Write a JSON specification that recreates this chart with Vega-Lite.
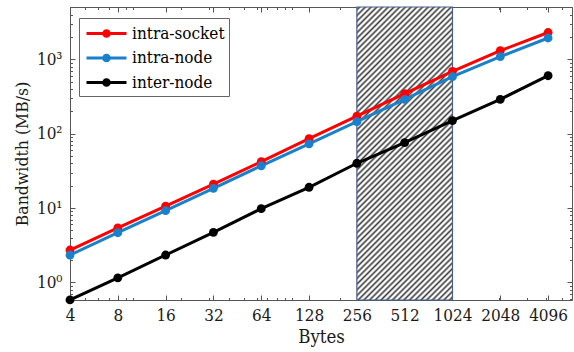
{
  "$schema": "https://vega.github.io/schema/vega-lite/v6.json",
  "width": 502,
  "height": 293,
  "autosize": "none",
  "padding": {"left": 70, "top": 7, "right": 2, "bottom": 52},
  "background": "#ffffff",
  "datasets": {
    "series": [
      {"bytes": 4, "bw": 2.72, "type": "intra-socket"},
      {"bytes": 8, "bw": 5.4, "type": "intra-socket"},
      {"bytes": 16, "bw": 10.6, "type": "intra-socket"},
      {"bytes": 32, "bw": 21, "type": "intra-socket"},
      {"bytes": 64, "bw": 42, "type": "intra-socket"},
      {"bytes": 128, "bw": 86, "type": "intra-socket"},
      {"bytes": 256, "bw": 172, "type": "intra-socket"},
      {"bytes": 512, "bw": 345, "type": "intra-socket"},
      {"bytes": 1024, "bw": 690, "type": "intra-socket"},
      {"bytes": 2048, "bw": 1310, "type": "intra-socket"},
      {"bytes": 4096, "bw": 2300, "type": "intra-socket"},
      {"bytes": 4, "bw": 2.33, "type": "intra-node"},
      {"bytes": 8, "bw": 4.65, "type": "intra-node"},
      {"bytes": 16, "bw": 9.2, "type": "intra-node"},
      {"bytes": 32, "bw": 18.4, "type": "intra-node"},
      {"bytes": 64, "bw": 37, "type": "intra-node"},
      {"bytes": 128, "bw": 73, "type": "intra-node"},
      {"bytes": 256, "bw": 145, "type": "intra-node"},
      {"bytes": 512, "bw": 290, "type": "intra-node"},
      {"bytes": 1024, "bw": 585, "type": "intra-node"},
      {"bytes": 2048, "bw": 1090, "type": "intra-node"},
      {"bytes": 4096, "bw": 1940, "type": "intra-node"},
      {"bytes": 4, "bw": 0.58, "type": "inter-node"},
      {"bytes": 8, "bw": 1.15, "type": "inter-node"},
      {"bytes": 16, "bw": 2.33, "type": "inter-node"},
      {"bytes": 32, "bw": 4.7, "type": "inter-node"},
      {"bytes": 64, "bw": 9.8, "type": "inter-node"},
      {"bytes": 128, "bw": 19, "type": "inter-node"},
      {"bytes": 256, "bw": 40, "type": "inter-node"},
      {"bytes": 512, "bw": 76, "type": "inter-node"},
      {"bytes": 1024, "bw": 150, "type": "inter-node"},
      {"bytes": 2048, "bw": 290, "type": "inter-node"},
      {"bytes": 4096, "bw": 603, "type": "inter-node"}
    ],
    "region": [
      {"start": 256, "end": 1024}
    ]
  },
  "layer": [
    {
      "data": {"name": "region"},
      "mark": {
        "type": "rect",
        "stroke": "#4a5e8e",
        "strokeWidth": 1.2,
        "fill": {
          "gradient": "linear",
          "x1": 0, "y1": 0, "x2": 0.3912, "y2": 1.1987,
          "stops": [
            {"offset": 0.0015, "color": "#fff"}, {"offset": 0.0074, "color": "#3c3c3c"}, {"offset": 0.0132, "color": "#fff"},
            {"offset": 0.0162, "color": "#fff"}, {"offset": 0.0221, "color": "#3c3c3c"}, {"offset": 0.0279, "color": "#fff"},
            {"offset": 0.0309, "color": "#fff"}, {"offset": 0.0368, "color": "#3c3c3c"}, {"offset": 0.0426, "color": "#fff"},
            {"offset": 0.0456, "color": "#fff"}, {"offset": 0.0515, "color": "#3c3c3c"}, {"offset": 0.0574, "color": "#fff"},
            {"offset": 0.0603, "color": "#fff"}, {"offset": 0.0662, "color": "#3c3c3c"}, {"offset": 0.0721, "color": "#fff"},
            {"offset": 0.0750, "color": "#fff"}, {"offset": 0.0809, "color": "#3c3c3c"}, {"offset": 0.0868, "color": "#fff"},
            {"offset": 0.0897, "color": "#fff"}, {"offset": 0.0956, "color": "#3c3c3c"}, {"offset": 0.1015, "color": "#fff"},
            {"offset": 0.1044, "color": "#fff"}, {"offset": 0.1103, "color": "#3c3c3c"}, {"offset": 0.1162, "color": "#fff"},
            {"offset": 0.1191, "color": "#fff"}, {"offset": 0.1250, "color": "#3c3c3c"}, {"offset": 0.1309, "color": "#fff"},
            {"offset": 0.1338, "color": "#fff"}, {"offset": 0.1397, "color": "#3c3c3c"}, {"offset": 0.1456, "color": "#fff"},
            {"offset": 0.1485, "color": "#fff"}, {"offset": 0.1544, "color": "#3c3c3c"}, {"offset": 0.1603, "color": "#fff"},
            {"offset": 0.1632, "color": "#fff"}, {"offset": 0.1691, "color": "#3c3c3c"}, {"offset": 0.1750, "color": "#fff"},
            {"offset": 0.1779, "color": "#fff"}, {"offset": 0.1838, "color": "#3c3c3c"}, {"offset": 0.1897, "color": "#fff"},
            {"offset": 0.1926, "color": "#fff"}, {"offset": 0.1985, "color": "#3c3c3c"}, {"offset": 0.2044, "color": "#fff"},
            {"offset": 0.2074, "color": "#fff"}, {"offset": 0.2132, "color": "#3c3c3c"}, {"offset": 0.2191, "color": "#fff"},
            {"offset": 0.2221, "color": "#fff"}, {"offset": 0.2279, "color": "#3c3c3c"}, {"offset": 0.2338, "color": "#fff"},
            {"offset": 0.2368, "color": "#fff"}, {"offset": 0.2426, "color": "#3c3c3c"}, {"offset": 0.2485, "color": "#fff"},
            {"offset": 0.2515, "color": "#fff"}, {"offset": 0.2574, "color": "#3c3c3c"}, {"offset": 0.2632, "color": "#fff"},
            {"offset": 0.2662, "color": "#fff"}, {"offset": 0.2721, "color": "#3c3c3c"}, {"offset": 0.2779, "color": "#fff"},
            {"offset": 0.2809, "color": "#fff"}, {"offset": 0.2868, "color": "#3c3c3c"}, {"offset": 0.2926, "color": "#fff"},
            {"offset": 0.2956, "color": "#fff"}, {"offset": 0.3015, "color": "#3c3c3c"}, {"offset": 0.3074, "color": "#fff"},
            {"offset": 0.3103, "color": "#fff"}, {"offset": 0.3162, "color": "#3c3c3c"}, {"offset": 0.3221, "color": "#fff"},
            {"offset": 0.3250, "color": "#fff"}, {"offset": 0.3309, "color": "#3c3c3c"}, {"offset": 0.3368, "color": "#fff"},
            {"offset": 0.3397, "color": "#fff"}, {"offset": 0.3456, "color": "#3c3c3c"}, {"offset": 0.3515, "color": "#fff"},
            {"offset": 0.3544, "color": "#fff"}, {"offset": 0.3603, "color": "#3c3c3c"}, {"offset": 0.3662, "color": "#fff"},
            {"offset": 0.3691, "color": "#fff"}, {"offset": 0.3750, "color": "#3c3c3c"}, {"offset": 0.3809, "color": "#fff"},
            {"offset": 0.3838, "color": "#fff"}, {"offset": 0.3897, "color": "#3c3c3c"}, {"offset": 0.3956, "color": "#fff"},
            {"offset": 0.3985, "color": "#fff"}, {"offset": 0.4044, "color": "#3c3c3c"}, {"offset": 0.4103, "color": "#fff"},
            {"offset": 0.4132, "color": "#fff"}, {"offset": 0.4191, "color": "#3c3c3c"}, {"offset": 0.4250, "color": "#fff"},
            {"offset": 0.4279, "color": "#fff"}, {"offset": 0.4338, "color": "#3c3c3c"}, {"offset": 0.4397, "color": "#fff"},
            {"offset": 0.4426, "color": "#fff"}, {"offset": 0.4485, "color": "#3c3c3c"}, {"offset": 0.4544, "color": "#fff"},
            {"offset": 0.4574, "color": "#fff"}, {"offset": 0.4632, "color": "#3c3c3c"}, {"offset": 0.4691, "color": "#fff"},
            {"offset": 0.4721, "color": "#fff"}, {"offset": 0.4779, "color": "#3c3c3c"}, {"offset": 0.4838, "color": "#fff"},
            {"offset": 0.4868, "color": "#fff"}, {"offset": 0.4926, "color": "#3c3c3c"}, {"offset": 0.4985, "color": "#fff"},
            {"offset": 0.5015, "color": "#fff"}, {"offset": 0.5074, "color": "#3c3c3c"}, {"offset": 0.5132, "color": "#fff"},
            {"offset": 0.5162, "color": "#fff"}, {"offset": 0.5221, "color": "#3c3c3c"}, {"offset": 0.5279, "color": "#fff"},
            {"offset": 0.5309, "color": "#fff"}, {"offset": 0.5368, "color": "#3c3c3c"}, {"offset": 0.5426, "color": "#fff"},
            {"offset": 0.5456, "color": "#fff"}, {"offset": 0.5515, "color": "#3c3c3c"}, {"offset": 0.5574, "color": "#fff"},
            {"offset": 0.5603, "color": "#fff"}, {"offset": 0.5662, "color": "#3c3c3c"}, {"offset": 0.5721, "color": "#fff"},
            {"offset": 0.5750, "color": "#fff"}, {"offset": 0.5809, "color": "#3c3c3c"}, {"offset": 0.5868, "color": "#fff"},
            {"offset": 0.5897, "color": "#fff"}, {"offset": 0.5956, "color": "#3c3c3c"}, {"offset": 0.6015, "color": "#fff"},
            {"offset": 0.6044, "color": "#fff"}, {"offset": 0.6103, "color": "#3c3c3c"}, {"offset": 0.6162, "color": "#fff"},
            {"offset": 0.6191, "color": "#fff"}, {"offset": 0.6250, "color": "#3c3c3c"}, {"offset": 0.6309, "color": "#fff"},
            {"offset": 0.6338, "color": "#fff"}, {"offset": 0.6397, "color": "#3c3c3c"}, {"offset": 0.6456, "color": "#fff"},
            {"offset": 0.6485, "color": "#fff"}, {"offset": 0.6544, "color": "#3c3c3c"}, {"offset": 0.6603, "color": "#fff"},
            {"offset": 0.6632, "color": "#fff"}, {"offset": 0.6691, "color": "#3c3c3c"}, {"offset": 0.6750, "color": "#fff"},
            {"offset": 0.6779, "color": "#fff"}, {"offset": 0.6838, "color": "#3c3c3c"}, {"offset": 0.6897, "color": "#fff"},
            {"offset": 0.6926, "color": "#fff"}, {"offset": 0.6985, "color": "#3c3c3c"}, {"offset": 0.7044, "color": "#fff"},
            {"offset": 0.7074, "color": "#fff"}, {"offset": 0.7132, "color": "#3c3c3c"}, {"offset": 0.7191, "color": "#fff"},
            {"offset": 0.7221, "color": "#fff"}, {"offset": 0.7279, "color": "#3c3c3c"}, {"offset": 0.7338, "color": "#fff"},
            {"offset": 0.7368, "color": "#fff"}, {"offset": 0.7426, "color": "#3c3c3c"}, {"offset": 0.7485, "color": "#fff"},
            {"offset": 0.7515, "color": "#fff"}, {"offset": 0.7574, "color": "#3c3c3c"}, {"offset": 0.7632, "color": "#fff"},
            {"offset": 0.7662, "color": "#fff"}, {"offset": 0.7721, "color": "#3c3c3c"}, {"offset": 0.7779, "color": "#fff"},
            {"offset": 0.7809, "color": "#fff"}, {"offset": 0.7868, "color": "#3c3c3c"}, {"offset": 0.7926, "color": "#fff"},
            {"offset": 0.7956, "color": "#fff"}, {"offset": 0.8015, "color": "#3c3c3c"}, {"offset": 0.8074, "color": "#fff"},
            {"offset": 0.8103, "color": "#fff"}, {"offset": 0.8162, "color": "#3c3c3c"}, {"offset": 0.8221, "color": "#fff"},
            {"offset": 0.8250, "color": "#fff"}, {"offset": 0.8309, "color": "#3c3c3c"}, {"offset": 0.8368, "color": "#fff"},
            {"offset": 0.8397, "color": "#fff"}, {"offset": 0.8456, "color": "#3c3c3c"}, {"offset": 0.8515, "color": "#fff"},
            {"offset": 0.8544, "color": "#fff"}, {"offset": 0.8603, "color": "#3c3c3c"}, {"offset": 0.8662, "color": "#fff"},
            {"offset": 0.8691, "color": "#fff"}, {"offset": 0.8750, "color": "#3c3c3c"}, {"offset": 0.8809, "color": "#fff"},
            {"offset": 0.8838, "color": "#fff"}, {"offset": 0.8897, "color": "#3c3c3c"}, {"offset": 0.8956, "color": "#fff"},
            {"offset": 0.8985, "color": "#fff"}, {"offset": 0.9044, "color": "#3c3c3c"}, {"offset": 0.9103, "color": "#fff"},
            {"offset": 0.9132, "color": "#fff"}, {"offset": 0.9191, "color": "#3c3c3c"}, {"offset": 0.9250, "color": "#fff"},
            {"offset": 0.9279, "color": "#fff"}, {"offset": 0.9338, "color": "#3c3c3c"}, {"offset": 0.9397, "color": "#fff"},
            {"offset": 0.9426, "color": "#fff"}, {"offset": 0.9485, "color": "#3c3c3c"}, {"offset": 0.9544, "color": "#fff"},
            {"offset": 0.9574, "color": "#fff"}, {"offset": 0.9632, "color": "#3c3c3c"}, {"offset": 0.9691, "color": "#fff"},
            {"offset": 0.9721, "color": "#fff"}, {"offset": 0.9779, "color": "#3c3c3c"}, {"offset": 0.9838, "color": "#fff"},
            {"offset": 0.9868, "color": "#fff"}, {"offset": 0.9926, "color": "#3c3c3c"}, {"offset": 0.9985, "color": "#fff"}
          ]
        }
      },
      "encoding": {
        "x": {
          "field": "start", "type": "quantitative",
          "scale": {"type": "log", "base": 2, "domain": [4, 5793], "nice": false},
          "axis": {
            "orient": "bottom", "title": "Bytes",
            "values": [4, 8, 16, 32, 64, 128, 256, 512, 1024, 2048, 4096],
            "format": "d", "tickSize": -5, "labelPadding": 12, "titlePadding": 4,
            "labelFlush": false, "labelOverlap": false
          }
        },
        "x2": {"field": "end"}
      }
    },
    {
      "data": {"name": "series"},
      "mark": {"type": "line", "clip": false},
      "encoding": {
        "x": {
          "field": "bytes", "type": "quantitative",
          "scale": {"type": "log", "base": 2, "domain": [4, 5793], "nice": false},
          "axis": {
            "orient": "top", "title": null, "labels": false,
            "values": [4, 8, 16, 32, 64, 128, 256, 512, 1024, 2048, 4096],
            "tickSize": -5
          }
        },
        "y": {
          "field": "bw", "type": "quantitative",
          "scale": {"type": "log", "domain": [0.578, 5070], "nice": false},
          "axis": {
            "orient": "left", "title": "Bandwidth (MB/s)",
            "values": [1, 10, 100, 1000],
            "labelExpr": "datum.value == 1 ? '10⁰' : datum.value == 10 ? '10¹' : datum.value == 100 ? '10²' : '10³'",
            "tickSize": -5, "labelPadding": 13, "titlePadding": 5, "titleFontSize": 17.5,
            "labelFlush": false, "labelOverlap": false
          }
        },
        "color": {
          "field": "type", "type": "nominal",
          "scale": {"domain": ["intra-socket", "intra-node", "inter-node"], "range": ["#ff0000", "#1a80cc", "#000000"]},
          "legend": {
            "orient": "none", "legendX": 9, "legendY": 11, "title": null,
            "padding": 4, "strokeColor": "#666", "fillColor": "#ffffff",
            "symbolType": "M-2,0L2,0M-0.28,0A0.28,0.28,0,1,0,0.28,0A0.28,0.28,0,1,0,-0.28,0Z",
            "symbolSize": 400, "symbolStrokeWidth": 2.8, "symbolOffset": 12,
            "labelFont": "DejaVu Serif Condensed", "labelFontSize": 17, "labelColor": "#000",
            "labelOffset": 14, "rowPadding": 3.5,
            "encode": {"symbols": {"update": {"fill": {"scale": "color", "field": "value"}, "stroke": {"scale": "color", "field": "value"}}}}
          }
        },
        "strokeWidth": {
          "field": "type", "type": "nominal",
          "scale": {"domain": ["intra-socket", "intra-node", "inter-node"], "range": [3, 3, 2.4]},
          "legend": null
        }
      }
    },
    {
      "data": {"name": "series"},
      "mark": {"type": "point", "filled": true, "shape": "circle", "size": 78, "opacity": 1, "clip": false},
      "encoding": {
        "x": {
          "field": "bytes", "type": "quantitative",
          "scale": {"type": "log", "base": 2, "domain": [4, 5793], "nice": false},
          "axis": {
            "orient": "top", "title": null, "labels": false, "domain": false,
            "values": [5, 6, 7, 9, 10, 20, 30, 40, 50, 60, 70, 80, 90, 100, 200, 300, 400, 500, 600, 700, 800, 900, 1000, 2000, 3000, 4000, 5000],
            "tickSize": -2.5
          }
        },
        "y": {
          "field": "bw", "type": "quantitative",
          "scale": {"type": "log", "domain": [0.578, 5070], "nice": false},
          "axis": {
            "orient": "left", "title": null, "labels": false, "domain": false,
            "values": [0.6, 0.7, 0.8, 0.9, 2, 3, 4, 5, 6, 7, 8, 9, 20, 30, 40, 50, 60, 70, 80, 90, 200, 300, 400, 500, 600, 700, 800, 900, 2000, 3000, 4000, 5000],
            "tickSize": -2.5
          }
        },
        "color": {
          "field": "type", "type": "nominal",
          "scale": {"domain": ["intra-socket", "intra-node", "inter-node"], "range": ["#ff0000", "#1a80cc", "#000000"]}
        }
      }
    },
    {
      "data": {"name": "series"},
      "mark": {"type": "point", "opacity": 0},
      "encoding": {
        "x": {
          "field": "bytes", "type": "quantitative",
          "scale": {"type": "log", "base": 2, "domain": [4, 5793], "nice": false},
          "axis": {
            "orient": "bottom", "title": null, "labels": false, "domain": false,
            "values": [5, 6, 7, 9, 10, 20, 30, 40, 50, 60, 70, 80, 90, 100, 200, 300, 400, 500, 600, 700, 800, 900, 1000, 2000, 3000, 4000, 5000],
            "tickSize": -2.5
          }
        },
        "y": {
          "field": "bw", "type": "quantitative",
          "scale": {"type": "log", "domain": [0.578, 5070], "nice": false},
          "axis": {
            "orient": "right", "title": null, "labels": false,
            "values": [1, 10, 100, 1000],
            "tickSize": -5
          }
        }
      }
    },
    {
      "data": {"name": "series"},
      "mark": {"type": "point", "opacity": 0},
      "encoding": {
        "x": {
          "field": "bytes", "type": "quantitative",
          "scale": {"type": "log", "base": 2, "domain": [4, 5793], "nice": false},
          "axis": null
        },
        "y": {
          "field": "bw", "type": "quantitative",
          "scale": {"type": "log", "domain": [0.578, 5070], "nice": false},
          "axis": {
            "orient": "right", "title": null, "labels": false, "domain": false,
            "values": [0.6, 0.7, 0.8, 0.9, 2, 3, 4, 5, 6, 7, 8, 9, 20, 30, 40, 50, 60, 70, 80, 90, 200, 300, 400, 500, 600, 700, 800, 900, 2000, 3000, 4000, 5000],
            "tickSize": -2.5
          }
        }
      }
    }
  ],
  "resolve": {"axis": {"x": "independent", "y": "independent"}},
  "config": {
    "view": {"stroke": null},
    "axis": {
      "grid": false,
      "domainColor": "#555555",
      "tickColor": "#555555",
      "domainWidth": 1,
      "tickWidth": 1,
      "labelColor": "#1a1a1a",
      "titleColor": "#1a1a1a",
      "labelFont": "DejaVu Serif Condensed",
      "titleFont": "DejaVu Serif Condensed",
      "titleFontWeight": "normal",
      "labelFontSize": 17,
      "titleFontSize": 18.5
    }
  }
}
